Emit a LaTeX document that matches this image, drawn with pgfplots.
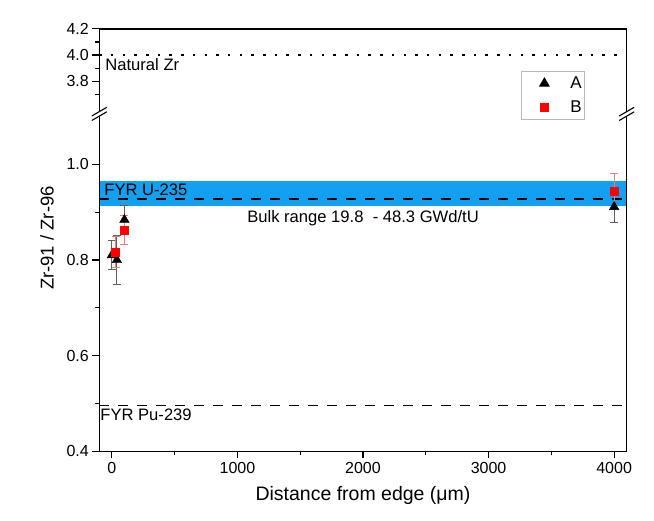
\documentclass[border=0pt]{standalone}
\usepackage{fontspec}
\setmainfont{Liberation Sans}
\usepackage{pgfplots}
\pgfplotsset{compat=1.18}

\definecolor{bandblue}{RGB}{20,160,240}
\definecolor{errA}{RGB}{95,95,95}
\definecolor{errB}{RGB}{240,125,125}

\pgfplotsset{
  brk/.style={
    scale only axis, width=527.4pt,
    xmin=-100, xmax=4100,
    axis line style={draw=none},
    tick align=outside, xtick pos=left, ytick pos=left,
    major tick length=7pt, minor tick length=4pt,
    every tick/.style={black, line width=1.2pt},
    tick label style={font=\fontsize{16}{19}\selectfont},
    /pgf/number format/assume math mode=true,
    yticklabel style={/pgf/number format/.cd, fixed, fixed zerofill, precision=1},
    xticklabel style={/pgf/number format/1000 sep={}},
  },
}
\tikzset{note/.style={anchor=base west, inner sep=0pt, font=\fontsize{16.6}{19}\selectfont}}

\begin{document}
\begin{tikzpicture}
\useasboundingbox (-99.3pt,-69.6pt) rectangle (554.7pt,451.4pt);

% lower part of the broken axis
\begin{axis}[brk, name=bot,
    at={(0pt,0pt)}, anchor=south west,
    height=335pt,
    ymin=0.4, ymax=1.1,
    xtick={0,1000,2000,3000,4000},
    minor xtick={500,1500,2500,3500},
    ytick={0.4,0.6,0.8,1.0},
    minor ytick={0.5,0.7,0.9},
    xlabel={Distance from edge (μm)},
    ylabel={Zr-91 / Zr-96},
    x label style={at={(axis description cs:0.5,-0.133)}, anchor=center,
        font=\fontsize{19.5}{22}\selectfont},
    y label style={at={(axis description cs:-0.099,0.637)}, anchor=center,
        font=\fontsize{18.5}{22}\selectfont},
    legend style={at={(axis description cs:0.7996,1.1355)}, anchor=north west,
        draw=gray!55, line width=0.8pt, inner xsep=3pt, inner ysep=0pt,
        font=\fontsize{17}{20}\selectfont, row sep=0pt,
        nodes={inner sep=0pt}},
    legend image code/.code={%
        \path[draw=none, fill=none] (0pt,-12pt) rectangle (46pt,12pt);
        \draw[#1] plot coordinates {(20pt,0pt)};},
]
\addplot[draw=none, fill=bandblue, forget plot] coordinates {
    (-100,0.912) (4100,0.912) (4100,0.966) (-100,0.966)};
\addplot[black, line width=1.8pt, dash pattern=on 10pt off 9pt, forget plot]
    coordinates {(-100,0.927) (4100,0.927)};
\addplot[black, line width=1.8pt, dash pattern=on 10pt off 9pt, forget plot]
    coordinates {(-100,0.496) (4100,0.496)};

\addplot[only marks, mark=triangle*, mark size=5.5pt, black,
    error bars/.cd, y dir=both, y explicit,
    error bar style={errA, line width=0.8pt},
    error mark options={errA, rotate=90, mark size=4pt, line width=0.8pt}]
coordinates {
    (0,0.810) +- (0,0.030)
    (40,0.800) +- (0,0.052)
    (100,0.884) +- (0,0.031)
    (4000,0.911) +- (0,0.032)
};
\addlegendentry{A}

\addplot[only marks, mark=square*, mark size=4pt, red,
    error bars/.cd, y dir=both, y explicit,
    error bar style={errB, line width=0.8pt},
    error mark options={errB, rotate=90, mark size=4pt, line width=0.8pt}]
coordinates {
    (30,0.817) +- (0,0.032)
    (100,0.863) +- (0,0.030)
    (4000,0.943) +- (0,0.037)
};
\addlegendentry{B}

\node[note] at (axis cs:-61,0.935) {FYR U-235};
\node[note] at (axis cs:1077,0.8785) {Bulk range 19.8\ \ - 48.3 GWd/tU};
\node[note] at (axis cs:-93,0.464) {FYR Pu-239};
\end{axis}

% upper part of the broken axis
\begin{axis}[brk, name=top,
    at={(0pt,344pt)}, anchor=south west,
    height=78.5pt,
    ymin=3.6, ymax=4.2,
    xtick=\empty,
    ytick={3.8,4.0,4.2},
    minor ytick={3.7,3.9,4.1},
]
\addplot[black, line width=2pt, dash pattern=on 2.5pt off 9.2pt]
    coordinates {(-100,4.0) (4100,4.0)};
\node[note] at (axis cs:-53,3.883) {Natural Zr};
\end{axis}

% frame and break marks
\draw[line width=1.3pt] (0pt,0pt) rectangle (527.4pt,422.5pt);
\foreach \xx in {0pt,527.4pt} {
  \fill[white] ([shift={(-7.5pt,-6.6pt)}]\xx,337.5pt) -- ([shift={(7.5pt,2.1pt)}]\xx,337.5pt)
     -- ([shift={(7.5pt,6.6pt)}]\xx,337.5pt) -- ([shift={(-7.5pt,-2.1pt)}]\xx,337.5pt) -- cycle;
  \draw[line width=1.1pt] ([shift={(-7.5pt,-6.6pt)}]\xx,337.5pt) -- ([shift={(7.5pt,2.1pt)}]\xx,337.5pt);
  \draw[line width=1.1pt] ([shift={(-7.5pt,-2.1pt)}]\xx,337.5pt) -- ([shift={(7.5pt,6.6pt)}]\xx,337.5pt);
}
\end{tikzpicture}
\end{document}
